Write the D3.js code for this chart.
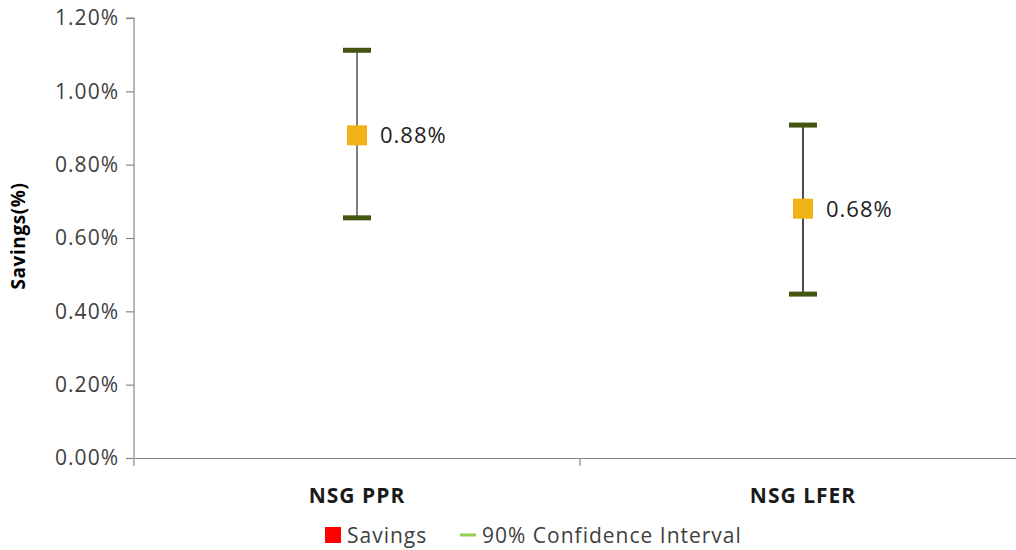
<!DOCTYPE html>
<html><head><meta charset="utf-8">
<script src="https://cdn.jsdelivr.net/npm/d3@7"></script>
<style>body{margin:0;background:#fff;} text{font-family:"Open Sans",sans-serif;}</style>
</head><body><svg id="c" width="1016" height="550"></svg>
<script>
const categories = ["NSG PPR", "NSG LFER"];
const savings = [0.0088, 0.0068];
const ciLow = [0.00655, 0.00447];
const ciHigh = [0.01112, 0.00908];
const pointLabels = ["0.88%", "0.68%"];
const yTicks = [0, 0.002, 0.004, 0.006, 0.008, 0.010, 0.012];
const legendItems = ["Savings", "90% Confidence Interval"];

const svg = d3.select("#c");
const x = d3.scaleBand().domain(categories).range([134, 1026]);
const y = d3.scaleLinear().domain([0, 0.012]).range([458, 18]);

// Y axis
const ya = svg.append("g").attr("transform", "translate(134,0)")
  .call(d3.axisLeft(y).tickValues(yTicks).tickSize(8).tickPadding(7).tickFormat(d3.format(".2%")));
ya.select(".domain").attr("stroke", "#898989").attr("stroke-width", 1.2).attr("d", "M-8,18H0V458");
ya.selectAll(".tick line").attr("stroke", "#898989").attr("stroke-width", 1.2);
ya.selectAll(".tick text").attr("font-size", 21).attr("letter-spacing", 1).attr("fill", "#404040").attr("font-family", "Open Sans");

// X axis
const xa = svg.append("g").attr("transform", "translate(0,458)")
  .call(d3.axisBottom(x).tickSize(0).tickFormat(""));
xa.select(".domain").attr("stroke", "#898989").attr("stroke-width", 1.2);
xa.selectAll(".tick").remove();
svg.append("line").attr("x1", x(categories[1])).attr("x2", x(categories[1]))
  .attr("y1", 458).attr("y2", 466).attr("stroke", "#898989").attr("stroke-width", 1.2);
svg.append("line").attr("x1", 134).attr("x2", 134)
  .attr("y1", 458).attr("y2", 466).attr("stroke", "#898989").attr("stroke-width", 1.2);

svg.selectAll(".cat").data(categories).enter().append("text")
  .attr("x", d => x(d) + x.bandwidth() / 2).attr("y", 503)
  .attr("text-anchor", "middle").attr("font-size", 21).attr("letter-spacing", 1).attr("font-weight", "bold").attr("fill", "#1a1a1a")
  .text(d => d);

// Y title
svg.append("text").attr("transform", "translate(25,236) rotate(-90)")
  .attr("text-anchor", "middle").attr("font-size", 19).attr("letter-spacing", 0.6).attr("font-weight", "bold").attr("fill", "#000")
  .text("Savings(%)");

// Error bars
const g = svg.append("g");
categories.forEach((c, i) => {
  const xc = x(c) + x.bandwidth() / 2;
  g.append("line").attr("x1", xc).attr("x2", xc).attr("y1", y(ciHigh[i])).attr("y2", y(ciLow[i]))
    .attr("stroke", i === 0 ? "#555" : "#111").attr("stroke-width", 1.5);
  [ciHigh[i], ciLow[i]].forEach(v => {
    g.append("line").attr("x1", xc - 14).attr("x2", xc + 14).attr("y1", y(v)).attr("y2", y(v))
      .attr("stroke", "#435510").attr("stroke-width", 5);
  });
  g.append("rect").attr("x", xc - 10).attr("y", y(savings[i]) - 10).attr("width", 20).attr("height", 20)
    .attr("fill", "#F0B216");
  g.append("text").attr("x", xc + 23).attr("y", y(savings[i]) + 8)
    .attr("font-size", 22).attr("letter-spacing", 1).attr("fill", "#222").text(pointLabels[i]);
});

// Legend
svg.append("rect").attr("x", 325).attr("y", 527).attr("width", 16).attr("height", 16).attr("fill", "#FF0000");
svg.append("text").attr("x", 347).attr("y", 543).attr("font-size", 21).attr("letter-spacing", 1).attr("fill", "#404040").text(legendItems[0]);
svg.append("line").attr("x1", 460).attr("x2", 476).attr("y1", 535).attr("y2", 535)
  .attr("stroke", "#92D050").attr("stroke-width", 3);
svg.append("text").attr("x", 482).attr("y", 543).attr("font-size", 21).attr("letter-spacing", 1).attr("fill", "#404040").text(legendItems[1]);
</script></body></html>
